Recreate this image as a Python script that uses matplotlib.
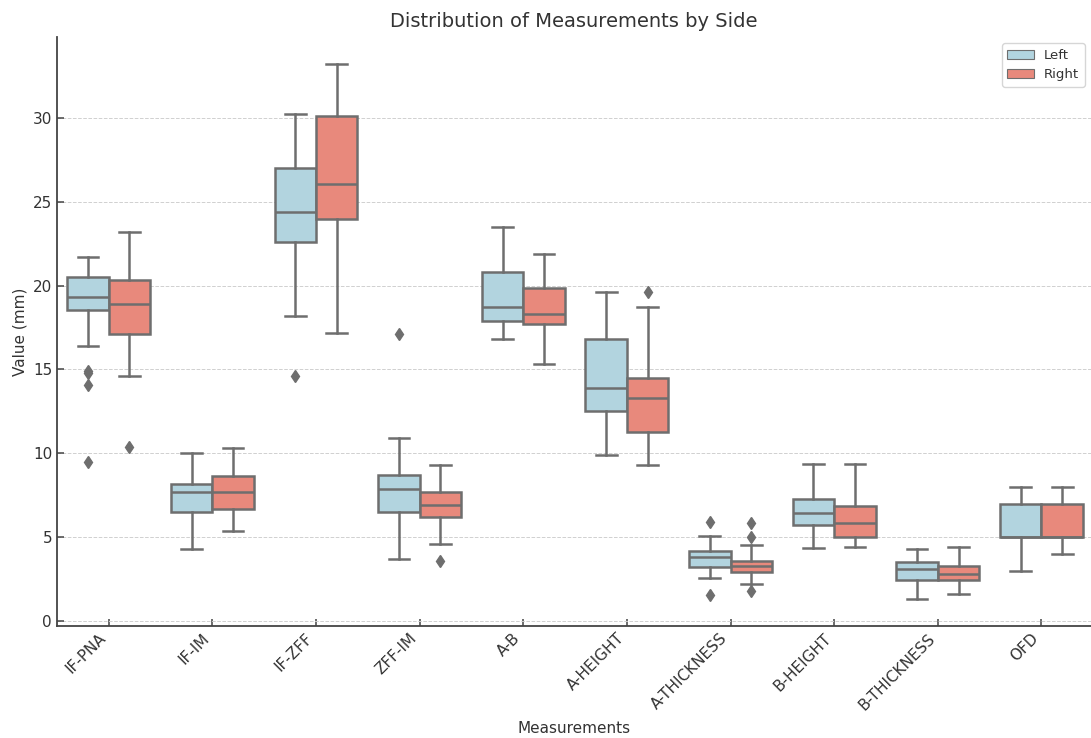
import matplotlib
matplotlib.use("Agg")
import matplotlib.pyplot as plt
from matplotlib.patches import Patch

# --- data (mm) ---
measurements = ["IF-PNA", "IF-IM", "IF-ZFF", "ZFF-IM", "A-B", "A-HEIGHT",
                "A-THICKNESS", "B-HEIGHT", "B-THICKNESS", "OFD"]

left_whislo = [16.4, 4.3, 18.2, 3.7, 16.8, 9.9, 2.6, 4.35, 1.33, 3.0]
left_q1     = [18.55, 6.5, 22.6, 6.5, 17.9, 12.5, 3.25, 5.75, 2.45, 5.0]
left_med    = [19.3, 7.7, 24.4, 7.9, 18.7, 13.9, 3.85, 6.45, 3.15, 5.0]
left_q3     = [20.5, 8.2, 27.0, 8.7, 20.8, 16.8, 4.2, 7.3, 3.55, 7.0]
left_whishi = [21.7, 10.0, 30.2, 10.9, 23.5, 19.6, 5.1, 9.4, 4.3, 8.0]
left_fliers = [[14.9, 14.8, 14.1, 9.5], [], [14.6], [17.1], [], [],
               [5.9, 1.6], [], [], []]

right_whislo = [14.6, 5.4, 17.2, 4.6, 15.3, 9.3, 2.25, 4.45, 1.65, 4.0]
right_q1     = [17.1, 6.7, 23.95, 6.2, 17.7, 11.3, 2.95, 5.0, 2.45, 5.0]
right_med    = [18.9, 7.7, 26.05, 6.95, 18.3, 13.3, 3.3, 5.85, 2.85, 5.0]
right_q3     = [20.3, 8.65, 30.1, 7.7, 19.85, 14.5, 3.6, 6.9, 3.3, 7.0]
right_whishi = [23.2, 10.3, 33.2, 9.3, 21.9, 18.7, 4.55, 9.35, 4.45, 8.0]
right_fliers = [[10.4], [], [], [3.6], [], [19.6], [5.85, 5.0, 1.8], [], [], []]

sides = ["Left", "Right"]
side_colors = ["#b2d4df", "#e8897c"]
line_gray = "#6e6e6e"
text_color = "#333333"


def make_stats(lo, q1, med, q3, hi, fl):
    return [dict(whislo=a, q1=b, med=c, q3=d, whishi=e, fliers=f)
            for a, b, c, d, e, f in zip(lo, q1, med, q3, hi, fl)]


stats = [
    make_stats(left_whislo, left_q1, left_med, left_q3, left_whishi, left_fliers),
    make_stats(right_whislo, right_q1, right_med, right_q3, right_whishi, right_fliers),
]

fig = plt.figure(figsize=(10.91, 7.38), dpi=100)
ax = fig.add_axes([0.0522, 0.152, 0.948, 0.798])

line_kw = dict(color=line_gray, linewidth=1.8)
for k, (side_stats, col) in enumerate(zip(stats, side_colors)):
    pos = [i - 0.2 + 0.4 * k for i in range(len(measurements))]
    ax.bxp(side_stats, positions=pos, widths=0.4, patch_artist=True,
           showfliers=True, manage_ticks=False,
           boxprops=dict(facecolor=col, edgecolor=line_gray, linewidth=1.8),
           medianprops=line_kw, whiskerprops=line_kw, capprops=line_kw,
           capwidths=0.2,
           flierprops=dict(marker="d", markerfacecolor=line_gray,
                           markeredgecolor=line_gray, markersize=6))

ax.set_xticks(range(len(measurements)))
ax.set_xticklabels(measurements, rotation=45, ha="right")
ax.set_xlim(-0.5, 9.48)
ax.set_ylim(-0.26, 34.8)
ax.set_yticks([0, 5, 10, 15, 20, 25, 30])

ax.grid(axis="y", linestyle="--", color="#d0d0d0", linewidth=0.7)
ax.set_axisbelow(True)
for s in ["top", "right"]:
    ax.spines[s].set_visible(False)
for s in ["left", "bottom"]:
    ax.spines[s].set_color("#444444")
    ax.spines[s].set_linewidth(1.3)
ax.tick_params(direction="in", length=5, width=1.1, color="#444444",
               labelsize=11, labelcolor=text_color)

ax.set_title("Distribution of Measurements by Side", fontsize=14,
             color=text_color, pad=7)
ax.set_xlabel("Measurements", fontsize=11, color=text_color, labelpad=6)
ax.set_ylabel("Value (mm)", fontsize=11, color=text_color)

handles = [Patch(facecolor=c, edgecolor=line_gray, linewidth=0.8, label=s)
           for s, c in zip(sides, side_colors)]
leg = ax.legend(handles=handles, loc="upper right", fontsize=9.5,
                frameon=True, edgecolor="#cccccc")
for t in leg.get_texts():
    t.set_color(text_color)

fig.savefig("out.png", dpi=100)
